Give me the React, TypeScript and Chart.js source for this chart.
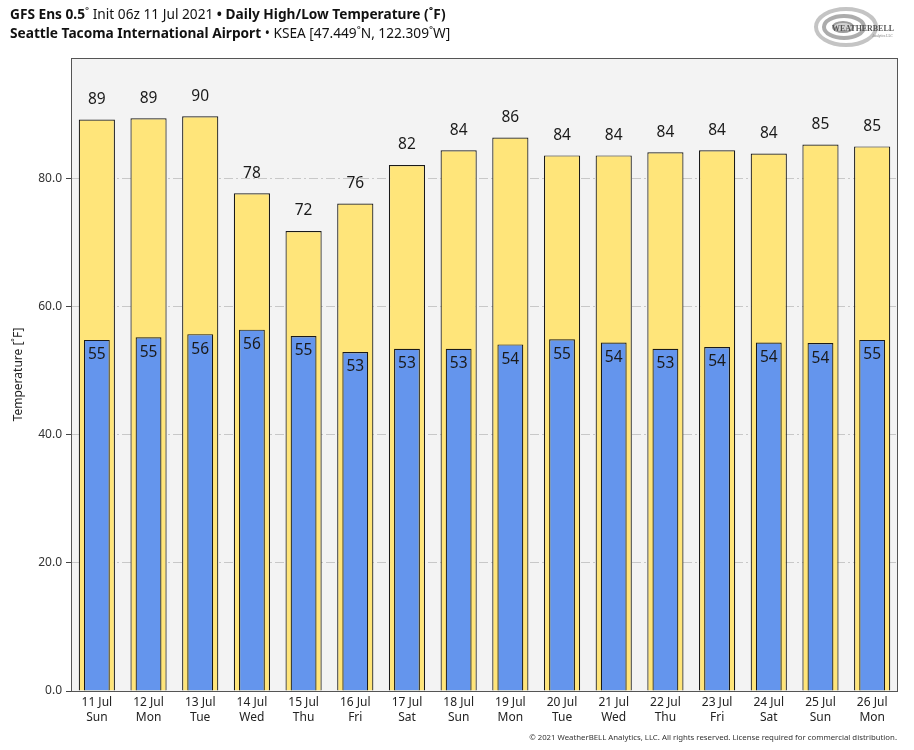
import React, { useEffect, useRef } from 'react';
import { Chart, registerables } from 'chart.js';

Chart.register(...registerables);

const dates = ['11 Jul', '12 Jul', '13 Jul', '14 Jul', '15 Jul', '16 Jul', '17 Jul', '18 Jul', '19 Jul', '20 Jul', '21 Jul', '22 Jul', '23 Jul', '24 Jul', '25 Jul', '26 Jul'];
const weekdays = ['Sun', 'Mon', 'Tue', 'Wed', 'Thu', 'Fri', 'Sat', 'Sun', 'Mon', 'Tue', 'Wed', 'Thu', 'Fri', 'Sat', 'Sun', 'Mon'];
const highTemps = [89.2, 89.4, 89.7, 77.7, 71.8, 76.1, 82.1, 84.4, 86.4, 83.6, 83.6, 84.1, 84.4, 83.9, 85.3, 85.0];
const lowTemps = [54.8, 55.2, 55.7, 56.4, 55.4, 52.9, 53.4, 53.4, 54.1, 54.9, 54.4, 53.4, 53.7, 54.4, 54.3, 54.8];
const yTicks = [0, 20, 40, 60, 80];

const FONT = '"Noto Sans", "DejaVu Sans", sans-serif';

const plotFrame = {
  id: 'plotFrame',
  beforeDraw(chart: any) {
    const { ctx, chartArea: a } = chart;
    ctx.save();
    ctx.fillStyle = '#f3f3f3';
    ctx.fillRect(a.left, a.top, a.right - a.left, a.bottom - a.top);
    ctx.restore();
  },
  afterDraw(chart: any) {
    const { ctx, chartArea: a } = chart;
    ctx.save();
    ctx.strokeStyle = '#555';
    ctx.lineWidth = 1;
    ctx.strokeRect(a.left + 0.5, a.top + 0.5, a.right - a.left - 1, a.bottom - a.top);
    ctx.restore();
  },
};

const valueLabels = {
  id: 'valueLabels',
  afterDatasetsDraw(chart: any) {
    const { ctx } = chart;
    ctx.save();
    ctx.font = `15.5px ${FONT}`;
    ctx.fillStyle = '#1a1a1a';
    ctx.textAlign = 'center';
    ctx.textBaseline = 'middle';
    chart.data.datasets.forEach((ds: any, di: number) => {
      const meta = chart.getDatasetMeta(di);
      meta.data.forEach((el: any, i: number) => {
        const v = Math.round(ds.data[i]);
        const y = ds.labelPos === 'above' ? el.y - 20 : el.y + 15;
        ctx.fillText(String(v), el.x, y);
      });
    });
    ctx.restore();
  },
};

export default function App() {
  const canvasRef = useRef<HTMLCanvasElement | null>(null);

  useEffect(() => {
    document.body.style.margin = '0';
    const canvas = canvasRef.current;
    if (!canvas) return;
    const chart = new Chart(canvas, {
      type: 'bar',
      data: {
        labels: dates.map((d, i) => [d, weekdays[i]]),
        datasets: [
          {
            label: 'Low',
            data: lowTemps,
            backgroundColor: '#6495ed',
            borderColor: '#1a1a1a',
            borderWidth: 1.2,
            barPercentage: 0.5,
            categoryPercentage: 1,
            grouped: false,
            order: 0,
            labelPos: 'inside',
          } as any,
          {
            label: 'High',
            data: highTemps,
            backgroundColor: '#ffe57a',
            borderColor: '#1a1a1a',
            borderWidth: 1.2,
            barPercentage: 0.7,
            categoryPercentage: 1,
            grouped: false,
            order: 1,
            labelPos: 'above',
          } as any,
        ],
      },
      options: {
        responsive: false,
        animation: false,
        layout: { padding: { left: 0, top: 58, right: 16, bottom: 0 } },
        plugins: {
          legend: { display: false },
          tooltip: { enabled: false },
          title: { display: false },
        },
        scales: {
          x: {
            grid: { display: false, drawTicks: false },
            border: { display: false },
            ticks: {
              color: '#222',
              font: { family: FONT, size: 12, lineHeight: 1.25 },
              padding: 4,
              maxRotation: 0,
              autoSkip: false,
            },
            afterFit: (s: any) => {
              s.height = 59;
            },
          },
          y: {
            min: 0,
            max: 98.8,
            afterBuildTicks: (s: any) => {
              s.ticks = yTicks.map((v) => ({ value: v }));
            },
            afterFit: (s: any) => {
              s.width = 71;
            },
            grid: {
              color: '#c8c8c8',
              lineWidth: 1,
              drawTicks: true,
              tickLength: 5,
              tickColor: '#444',
            },
            border: { display: false, dash: [9, 3, 2, 3] },
            ticks: {
              color: '#333',
              font: { family: FONT, size: 12 },
              padding: 4,
              callback: (v: any) => Number(v).toFixed(1),
            },
            title: {
              display: true,
              text: 'Temperature [˚F]',
              color: '#222',
              font: { family: FONT, size: 12 },
              padding: { top: 11, bottom: 0 },
            },
          },
        },
      },
      plugins: [plotFrame, valueLabels],
    });
    return () => chart.destroy();
  }, []);

  return (
    <div style={{ position: 'relative', width: 914, height: 750, background: '#fff', overflow: 'hidden' }}>
      <canvas ref={canvasRef} width={914} height={750} style={{ display: 'block', width: 914, height: 750 }} />
      <div
        style={{
          position: 'absolute',
          left: 10,
          top: 4,
          fontFamily: FONT,
          fontSize: 13.7,
          lineHeight: '19px',
          color: '#111',
          whiteSpace: 'nowrap',
        }}
      >
        <div>
          <b>GFS Ens 0.5</b>˚ Init 06z 11 Jul 2021 <b>•</b> <b>Daily High/Low Temperature (˚F)</b>
        </div>
        <div>
          <b>Seattle Tacoma International Airport</b> • KSEA [47.449˚N, 122.309˚W]
        </div>
      </div>
      <svg style={{ position: 'absolute', left: 810, top: 3, width: 92, height: 46 }} viewBox="0 0 92 46">
        <ellipse cx="36" cy="24" rx="30" ry="18" fill="none" stroke="#c4c4c4" strokeWidth="4" />
        <ellipse cx="34" cy="24" rx="20" ry="11" fill="none" stroke="#acacac" strokeWidth="4" />
        <ellipse cx="33" cy="24" rx="10" ry="5" fill="#d2d2d2" stroke="#9c9c9c" strokeWidth="2" />
        <text x="22" y="28" fontFamily="Liberation Serif, serif" fontSize="8" fontWeight="bold" fill="#555" textLength="62" lengthAdjust="spacingAndGlyphs">
          WEATHERBELL
        </text>
        <text x="62" y="34" fontFamily="Liberation Serif, serif" fontSize="3.5" fill="#777">
          Analytics LLC
        </text>
      </svg>
      <div
        style={{
          position: 'absolute',
          right: 17,
          top: 732,
          fontFamily: FONT,
          fontSize: 7.8,
          lineHeight: '10px',
          color: '#333',
          whiteSpace: 'nowrap',
        }}
      >
        © 2021 WeatherBELL Analytics, LLC. All rights reserved. License required for commercial distribution.
      </div>
    </div>
  );
}
